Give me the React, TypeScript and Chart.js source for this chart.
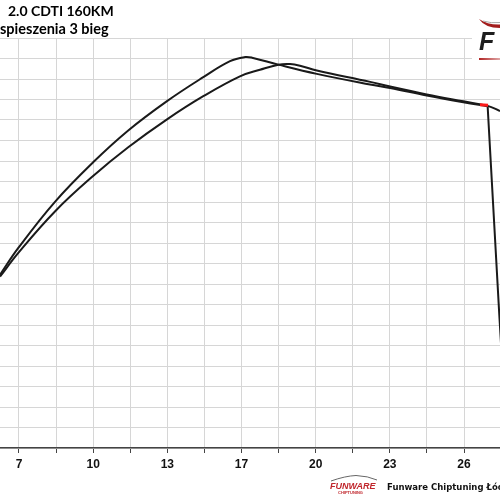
import { useEffect, useRef } from "react";
import { Chart, registerables } from "chart.js";

Chart.register(...registerables);

const titleLines = ["2.0 CDTI 160KM", "spieszenia 3 bieg"];
const footerText = "Funware Chiptuning Łódź";
const logoText = "FUNWARE";
const logoSubText = "CHIPTUNING";

const xTickValues = [6.6, 8.25, 9.9, 11.55, 13.2, 14.85, 16.5, 18.15, 19.8, 21.45, 23.1, 24.75, 26.4];
const xTickLabels = ["7", "", "10", "", "13", "", "17", "", "20", "", "23", "", "26"];

// run A: rising part up to the cut-off point
const speedA = [5.755, 6.57, 8.2, 9.91, 11.46, 13.17, 14.8, 15.99, 16.66, 16.97, 18.14, 19.85, 22.22, 23.11, 24.74, 26.37, 27.45];
const valueA = [84.5, 97.6, 120.1, 139.5, 154.9, 169.1, 180.9, 188.7, 190.7, 190.4, 187.0, 182.5, 177.3, 175.6, 172.0, 168.7, 166.7];
// run A: drop after the cut-off
const speedDrop = [27.45, 27.97, 28.45];
const valueDrop = [166.7, 64.7, -23];

const speedB = [5.755, 6.57, 8.2, 9.91, 11.46, 13.17, 14.8, 16.43, 17.32, 18.14, 18.66, 19.1, 19.85, 22.22, 23.11, 24.74, 26.37, 27.45, 28.0];
const valueB = [83.6, 95.2, 115.4, 132.8, 146.7, 160.2, 171.6, 181.3, 184.5, 187.0, 187.3, 186.5, 184.1, 178.6, 176.3, 172.5, 169.1, 166.9, 164.4];

const speedRed = [27.11, 27.47];
const valueRed = [167.4, 167.2];

const toPoints = (xs: number[], ys: number[]) => xs.map((x, i) => ({ x, y: ys[i] }));

export default function App() {
  const ref = useRef<HTMLCanvasElement>(null);

  useEffect(() => {
    if (!ref.current) return;
    const overlay = {
      id: "overlay",
      afterDraw(chart: any) {
        const ctx = chart.ctx as CanvasRenderingContext2D;
        ctx.save();
        // titles
        ctx.fillStyle = "#000";
        ctx.textBaseline = "alphabetic";
        ctx.textAlign = "left";
        ctx.font = "bold 14px Lato";
        ctx.fillText(titleLines[0], 8, 16);
        ctx.font = "bold 14.5px Lato";
        ctx.fillText(titleLines[1], 0, 34);

        // top-right logo
        ctx.fillStyle = "#fff";
        ctx.fillRect(472, 0, 28, 63);
        ctx.fillStyle = "#a31d1d";
        ctx.beginPath();
        ctx.moveTo(479, 19);
        ctx.quadraticCurveTo(485, 28, 500, 28);
        ctx.lineTo(500, 24.5);
        ctx.quadraticCurveTo(488, 25, 479, 19);
        ctx.fill();
        ctx.strokeStyle = "#aaa";
        ctx.lineWidth = 1;
        ctx.beginPath();
        ctx.moveTo(483, 21);
        ctx.quadraticCurveTo(491, 23.5, 500, 22.5);
        ctx.stroke();
        ctx.fillStyle = "#1e1e1e";
        ctx.font = 'italic bold 25px "Liberation Sans"';
        ctx.fillText("F", 479, 50);
        const grad = ctx.createLinearGradient(479, 0, 500, 0);
        grad.addColorStop(0, "#b02424");
        grad.addColorStop(1, "rgba(176,36,36,0.4)");
        ctx.fillStyle = grad;
        ctx.fillRect(479, 58, 21, 2);

        // bottom small logo
        ctx.strokeStyle = "#666";
        ctx.lineWidth = 1;
        ctx.beginPath();
        ctx.moveTo(331, 481);
        ctx.quadraticCurveTo(345, 476, 356, 475.5);
        ctx.quadraticCurveTo(368, 476, 377, 480);
        ctx.stroke();
        ctx.fillStyle = "#c0262c";
        ctx.font = 'italic bold 9px "Liberation Sans"';
        ctx.fillText(logoText, 330, 489);
        ctx.font = 'bold 4px "Liberation Sans"';
        ctx.fillText(logoSubText, 338, 493.5);

        // footer
        ctx.fillStyle = "#111";
        ctx.font = 'bold 8.5px "DejaVu Sans"';
        ctx.fillText(footerText, 387, 489.5);
        ctx.restore();
      },
    };

    const lineStyle = { borderColor: "#1a1a1a", borderWidth: 2, pointRadius: 0 };

    const chart = new Chart(ref.current, {
      type: "line",
      data: {
        datasets: [
          {
            data: toPoints(speedRed, valueRed),
            borderColor: "#ff1a1a",
            borderWidth: 3,
            pointRadius: 0,
            order: 0,
          },
          { ...lineStyle, data: toPoints(speedA, valueA), tension: 0.4, order: 1 },
          { ...lineStyle, data: toPoints(speedDrop, valueDrop), tension: 0, order: 1 },
          { ...lineStyle, data: toPoints(speedB, valueB), tension: 0.4, order: 2 },
        ],
      },
      options: {
        responsive: false,
        animation: false,
        events: [],
        layout: { padding: { top: 38, bottom: 24.6, left: 0, right: 0 } },
        plugins: { legend: { display: false }, tooltip: { enabled: false }, title: { display: false } },
        scales: {
          x: {
            type: "linear",
            min: 5.755,
            max: 28.0,
            afterBuildTicks: (scale: any) => {
              scale.ticks = xTickValues.map((v) => ({ value: v }));
            },
            grid: {
              color: "#d6d6d6",
              lineWidth: 1,
              drawTicks: true,
              tickLength: 5,
              tickColor: "#444",
              tickWidth: 1,
            },
            border: { display: true, color: "#444", width: 1.5 },
            ticks: {
              autoSkip: false,
              maxRotation: 0,
              padding: 4,
              color: "#111",
              font: { family: '"Liberation Sans"', size: 12, weight: "bold" },
              callback: (_v: any, i: number) => xTickLabels[i] ?? "",
            },
          },
          y: {
            type: "linear",
            min: 0,
            max: 200,
            ticks: { display: false, stepSize: 10 },
            grid: { color: "#d6d6d6", lineWidth: 1, drawTicks: false },
            border: { display: false },
          },
        },
      },
      plugins: [overlay],
    } as any);

    return () => chart.destroy();
  }, []);

  return (
    <div style={{ position: "fixed", left: 0, top: 0, width: 500, height: 500, background: "#fff" }}>
      <canvas ref={ref} width={500} height={500} style={{ display: "block" }} />
    </div>
  );
}
